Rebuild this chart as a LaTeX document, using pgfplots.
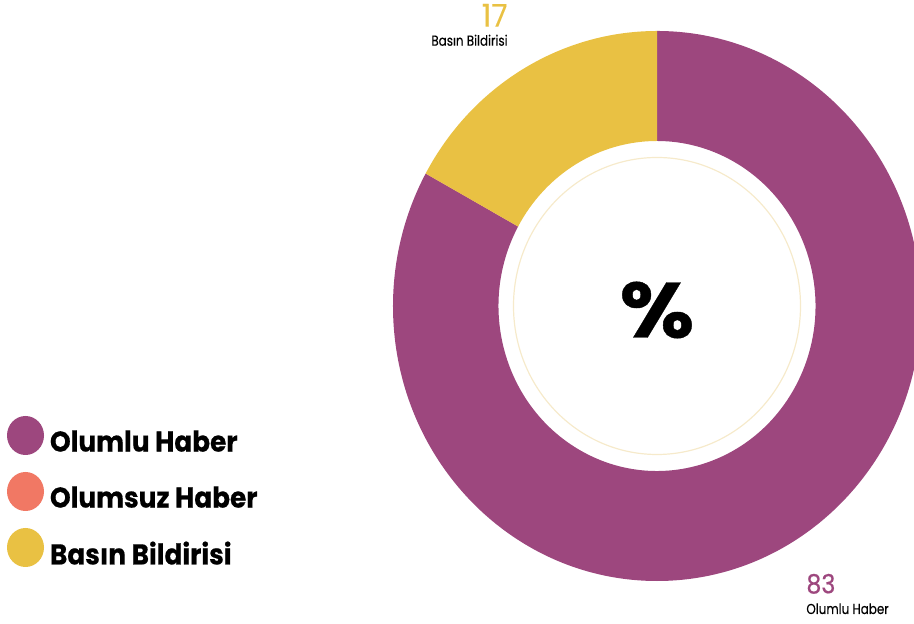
\documentclass[border=0pt]{standalone}
\usepackage{graphicx}
\usepackage{pgfplots}
\pgfplotsset{compat=1.18}
\usepackage{pgfplotstable}
\usepackage{fontspec}
\setmainfont{Poppins}[BoldFeatures={FakeBold=0.5}]
\newfontfamily\numfont{Poppins}[FakeBold=0.6]
\newfontfamily\numfontlight{Poppins}[FakeBold=0.2]
\definecolor{cPurple}{HTML}{9D477E}
\definecolor{cSalmon}{HTML}{F17864}
\definecolor{cYellow}{HTML}{E9C143}
\definecolor{cRing}{HTML}{F6EACB}

\pgfplotstableread{
label value
Olumlu 83
Olumsuz 0
Basin 17
}\piedata
\pgfplotstablegetelem{0}{value}\of\piedata \let\vA\pgfplotsretval
\pgfplotstablegetelem{1}{value}\of\piedata \let\vB\pgfplotsretval
\pgfplotstablegetelem{2}{value}\of\piedata \let\vC\pgfplotsretval
\pgfmathsetmacro{\aA}{90}
\pgfmathsetmacro{\aB}{\aA-3.6*\vA}
\pgfmathsetmacro{\aC}{\aB-3.6*\vB}
\pgfmathsetmacro{\aD}{\aC-3.6*\vC}

% slice of the donut: colour, start angle, end angle
\newcommand{\donutslice}[3]{%
  \fill[#1] ([shift={(#2:132bp and 137.5bp)}]axis cs:657,318)
    arc[start angle=#2, end angle=#3, x radius=132bp, y radius=137.5bp]
    -- ([shift={(#3:79.25bp and 82.5bp)}]axis cs:657,318)
    arc[start angle=#3, end angle=#2, x radius=79.25bp, y radius=82.5bp]
    -- cycle;}

\begin{document}
\begin{tikzpicture}
\begin{axis}[
  x=0.5bp, y=0.5bp, xmin=0, xmax=914, ymin=0, ymax=624,
  hide axis, clip=true,
  legend cell align=left,
  legend style={at={(axis cs:7,208)}, anchor=north west, draw=none, fill=none,
    inner sep=0pt, outer sep=0pt, row sep=8.5bp,
    font=\fontsize{14.3bp}{16bp}\selectfont\bfseries,
    nodes={inner sep=0pt},
    /tikz/every odd column/.append style={column sep=3bp}},
  legend image code/.code={\fill (9.25bp,0.35em) ellipse[x radius=9.25bp, y radius=9.75bp];},
]
\addlegendimage{fill=cPurple, draw=none}
\addlegendentry{\scalebox{0.92}[1]{Olumlu Haber}}
\addlegendimage{fill=cSalmon, draw=none}
\addlegendentry{\scalebox{0.92}[1]{Olumsuz Haber}}
\addlegendimage{fill=cYellow, draw=none}
\addlegendentry{\scalebox{0.92}[1]{Basın Bildirisi}}

\donutslice{cPurple}{\aA}{\aB}
\donutslice{cSalmon}{\aB}{\aC}
\donutslice{cYellow}{\aC}{\aD}
\draw[cRing, line width=0.6bp] (axis cs:657,318) ellipse[x radius=71.75bp, y radius=74.25bp];

\node[font=\fontsize{39bp}{39bp}\selectfont\bfseries, inner sep=0pt] at (axis cs:657,314) {\scalebox{1.1}[1]{\%}};

\node[anchor=base east, inner sep=0pt, text=cYellow, font=\fontsize{15.7bp}{16bp}\numfontlight] at (axis cs:508,597.3) {\scalebox{0.95}[1]{17}};
\node[anchor=base east, inner sep=0pt, font=\fontsize{7.2bp}{8bp}\numfontlight] at (axis cs:508,578.3) {\scalebox{0.83}[1]{Basın Bildirisi}};
\node[anchor=base west, inner sep=0pt, text=cPurple, font=\fontsize{13.2bp}{14bp}\numfont] at (axis cs:806,30.7) {\scalebox{0.9}[1]{83}};
\node[anchor=base west, inner sep=0pt, font=\fontsize{7.2bp}{8bp}\numfontlight] at (axis cs:806,10) {\scalebox{0.83}[1]{Olumlu Haber}};
\end{axis}
\pgfresetboundingbox
\path[use as bounding box] (current axis.south west) rectangle (current axis.north east);
\end{tikzpicture}
\end{document}
